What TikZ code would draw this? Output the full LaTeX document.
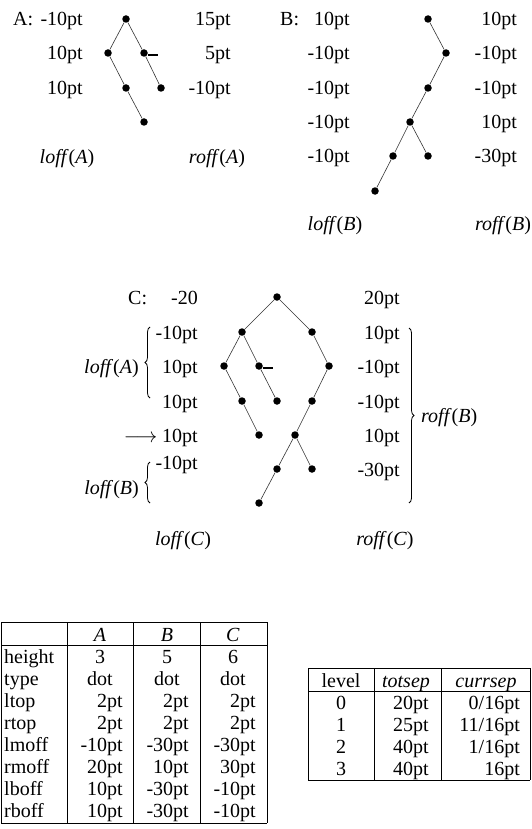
\documentclass[tikz,border=0pt]{standalone}
\usepackage{fontspec}
\setmainfont{Liberation Serif}
\usetikzlibrary{decorations.pathreplacing}

\begin{document}
\begin{tikzpicture}[x=1pt,y=-1pt,font=\fontsize{20}{24}\selectfont,
  tdot/.style={circle,fill,inner sep=0pt,minimum size=7.5pt},
  link/.style={line width=0.6pt,black!80},
  tickmark/.style={line width=1.5pt},
  rv/.style={anchor=base east,inner sep=0pt},
  lv/.style={anchor=base west,inner sep=0pt},
  cv/.style={anchor=base,inner sep=0pt},
  brc/.style={decorate,decoration={brace,amplitude=5pt},line width=0.8pt},
  rule/.style={line width=0.9pt}]
\useasboundingbox (0,0) rectangle (532,829);

\node[tdot] (a0) at (126,19) {};
\node[tdot] (a1) at (108,53) {};
\node[tdot] (a2) at (144,53) {};
\node[tdot] (a3) at (126,88) {};
\node[tdot] (a4) at (161,88) {};
\node[tdot] (a5) at (144,122) {};
\draw[link] (a1) -- (a0) -- (a2) -- (a4);
\draw[link] (a1) -- (a3) -- (a5);
\draw[tickmark] (a2.east) ++(0,2) -- ++(10,0);
\node[lv] (alab) at (13,26) {A:};
\node[rv] (al0) at (83,26) {-10pt};
\node[rv] (al1) at (83,60) {10pt};
\node[rv] (al2) at (83,95) {10pt};
\node[rv] (ar0) at (231,26) {15pt};
\node[rv] (ar1) at (231,60) {5pt};
\node[rv] (ar2) at (231,95) {-10pt};
\node[cv] (aloff) at (67,164) {\textit{loff}(\textit{A})};
\node[cv] (aroff) at (217,164) {\textit{roff}(\textit{A})};

\node[tdot] (b0) at (428,19) {};
\node[tdot] (b1) at (446,53) {};
\node[tdot] (b2) at (428,88) {};
\node[tdot] (b3) at (410,122) {};
\node[tdot] (b4) at (393,156) {};
\node[tdot] (b5) at (428,156) {};
\node[tdot] (b6) at (375,191) {};
\draw[link] (b0) -- (b1) -- (b2) -- (b3) -- (b4) -- (b6);
\draw[link] (b3) -- (b5);
\node[lv] (blab) at (280,26) {B:};
\node[rv] (bl0) at (350,26) {10pt};
\node[rv] (bl1) at (350,60) {-10pt};
\node[rv] (bl2) at (350,95) {-10pt};
\node[rv] (bl3) at (350,129) {-10pt};
\node[rv] (bl4) at (350,163) {-10pt};
\node[rv] (br0) at (517,26) {10pt};
\node[rv] (br1) at (517,60) {-10pt};
\node[rv] (br2) at (517,95) {-10pt};
\node[rv] (br3) at (517,129) {10pt};
\node[rv] (br4) at (517,163) {-30pt};
\node[cv] (bloff) at (335,230) {\textit{loff}(\textit{B})};
\node[cv] (broff) at (503,230) {\textit{roff}(\textit{B})};

\node[tdot] (c0) at (277,297) {};
\node[tdot] (c1) at (242,332) {};
\node[tdot] (c2) at (312,332) {};
\node[tdot] (c3) at (224,366) {};
\node[tdot] (c4) at (259,366) {};
\node[tdot] (c5) at (242,401) {};
\node[tdot] (c6) at (277,401) {};
\node[tdot] (c7) at (259,435) {};
\node[tdot] (c8) at (329,366) {};
\node[tdot] (c9) at (312,401) {};
\node[tdot] (c10) at (295,435) {};
\node[tdot] (c11) at (277,469) {};
\node[tdot] (c12) at (312,469) {};
\node[tdot] (c13) at (259,503) {};
\draw[link] (c1) -- (c0) -- (c2);
\draw[link] (c3) -- (c1) -- (c4) -- (c6);
\draw[link] (c3) -- (c5) -- (c7);
\draw[link] (c2) -- (c8) -- (c9) -- (c10) -- (c11) -- (c13);
\draw[link] (c10) -- (c12);
\draw[tickmark] (c4.east) ++(0,2) -- ++(10,0);
\node[lv] (clab) at (128,304) {C:};
\node[rv] (cl0) at (198,304) {-20};
\node[rv] (cl1) at (198,339) {-10pt};
\node[rv] (cl2) at (198,373) {10pt};
\node[rv] (cl3) at (198,408) {10pt};
\node[rv] (cl4) at (198,442) {$\longrightarrow$ 10pt};
\node[rv] (cl5) at (198,469) {-10pt};
\node[rv] (cr0) at (400,304) {20pt};
\node[rv] (cr1) at (400,339) {10pt};
\node[rv] (cr2) at (400,373) {-10pt};
\node[rv] (cr3) at (400,408) {-10pt};
\node[rv] (cr4) at (400,442) {10pt};
\node[rv] (cr5) at (400,476) {-30pt};
\draw[brc] (150,398) -- (150,327);
\node[rv] (cloffa) at (139,373) {\textit{loff}(\textit{A})};
\draw[brc] (150,503) -- (150,462);
\node[rv] (cloffb) at (139,494) {\textit{loff}(\textit{B})};
\draw[brc] (409,328) -- (409,503);
\node[lv] (croffb) at (421,422) {\textit{roff}(\textit{B})};
\node[cv] (cloffc) at (183,545) {\textit{loff}(\textit{C})};
\node[cv] (croffc) at (385,545) {\textit{roff}(\textit{C})};

\draw[rule] (1,622) -- (267,622) (1,645) -- (267,645) (1,823) -- (267,823);
\foreach \x in {1,67,133,200,267} \draw[rule] (\x,622) -- (\x,823);
\node[cv] (ha) at (100,641) {\textit{A}};
\node[cv] (hb) at (167,641) {\textit{B}};
\node[cv] (hc) at (233,641) {\textit{C}};
\foreach \lab/\va/\vb/\vc [count=\i from 0] in {height/3/5/6,type/dot/dot/dot}{
  \node[lv] (r\i) at (4,{663+22*\i}) {\lab};
  \node[cv] (ra\i) at (100,{663+22*\i}) {\va};
  \node[cv] (rb\i) at (167,{663+22*\i}) {\vb};
  \node[cv] (rc\i) at (233,{663+22*\i}) {\vc};
}
\foreach \lab/\va/\vb/\vc [count=\i from 2] in {ltop/2pt/2pt/2pt,rtop/2pt/2pt/2pt,lmoff/-10pt/-30pt/-30pt,rmoff/20pt/10pt/30pt,lboff/10pt/-30pt/-10pt,rboff/10pt/-30pt/-10pt}{
  \node[lv] (r\i) at (4,{663+22*\i}) {\lab};
  \node[rv] (ra\i) at (123,{663+22*\i}) {\va};
  \node[rv] (rb\i) at (189,{663+22*\i}) {\vb};
  \node[rv] (rc\i) at (256,{663+22*\i}) {\vc};
}

\draw[rule] (308,668) -- (530,668) (308,691) -- (530,691) (308,780) -- (530,780);
\foreach \x in {308,374,441,530} \draw[rule] (\x,668) -- (\x,780);
\node[cv] (hlev) at (341,687) {level};
\node[cv] (htot) at (406,687) {\textit{totsep}};
\node[cv] (hcur) at (486,687) {\textit{currsep}};
\foreach \lev/\tot/\cur [count=\i from 0] in {0/20pt/0\slash16pt,1/25pt/11\slash16pt,2/40pt/1\slash16pt,3/40pt/16pt}{
  \node[cv] (l\i) at (341,{709+22*\i}) {\lev};
  \node[rv] (t\i) at (429,{709+22*\i}) {\tot};
  \node[rv] (s\i) at (520,{709+22*\i}) {\cur};
}
\end{tikzpicture}
\end{document}
